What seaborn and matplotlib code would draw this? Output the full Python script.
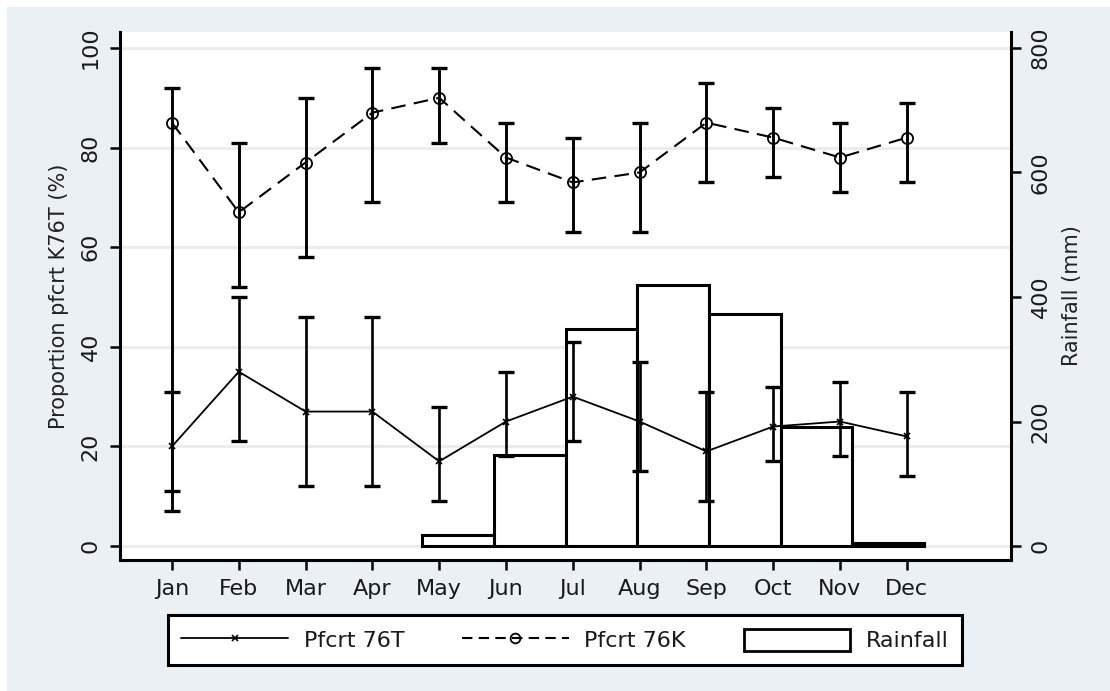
import matplotlib
matplotlib.use("Agg")
import matplotlib.pyplot as plt
import matplotlib.transforms as mtransforms
import seaborn as sns
import numpy as np
import pandas as pd
from matplotlib.patches import Rectangle
from matplotlib.lines import Line2D

# ---------------- data ----------------
months = ["Jan", "Feb", "Mar", "Apr", "May", "Jun", "Jul", "Aug", "Sep", "Oct", "Nov", "Dec"]
month_num = list(range(1, 13))

t76 = [20, 35, 27, 27, 17, 25, 30, 25, 19, 24, 25, 22]
t76_lo = [11, 21, 12, 12, 9, 18, 21, 15, 9, 17, 18, 14]
t76_hi = [31, 50, 46, 46, 28, 35, 41, 37, 31, 32, 33, 31]

k76 = [85, 67, 77, 87, 90, 78, 73, 75, 85, 82, 78, 82]
k76_lo = [7, 52, 58, 69, 81, 69, 63, 63, 73, 74, 71, 73]
k76_hi = [92, 81, 90, 96, 96, 85, 82, 85, 93, 88, 85, 89]

rain_months = [5, 6, 7, 8, 9, 10, 11]
rainfall = [18, 147, 349, 419, 373, 192, 5]

pct_ticks = [0, 20, 40, 60, 80, 100]
rain_ticks = [0, 200, 400, 600, 800]

# ---------------- style ----------------
sns.set_theme(style="white")
plt.rcParams["font.family"] = ["DejaVu Sans"]
plt.rcParams["text.color"] = "#1a1a1a"
plt.rcParams["axes.labelcolor"] = "#222222"
plt.rcParams["xtick.color"] = "#1a1a1a"
plt.rcParams["ytick.color"] = "#1a1a1a"

BG = "#eaf0f3"
fig = plt.figure(figsize=(11.10, 6.91), dpi=100, facecolor=BG)
# white margin on top/left like the reference scan
fig.patches.append(Rectangle((0, 1 - 7 / 691), 1, 7 / 691, transform=fig.transFigure,
                             facecolor="white", edgecolor="none", zorder=-10))
fig.patches.append(Rectangle((0, 0), 7 / 1110, 1, transform=fig.transFigure,
                             facecolor="white", edgecolor="none", zorder=-10))

rect = [120 / 1110, 1 - 560 / 691, (1011 - 120) / 1110, (560 - 32) / 691]

ax_b = fig.add_axes(rect)   # rainfall layer (bottom)
ax = fig.add_axes(rect)     # percentage layer (top)
ax.patch.set_visible(False)

# ---- rainfall layer ----
ax_b.set_facecolor("white")
rain_df = pd.DataFrame({"m": rain_months, "rain": rainfall})
sns.barplot(data=rain_df, x="m", y="rain", native_scale=True, width=1.0,
            color="white", saturation=1, edgecolor="black", linewidth=2.2,
            errorbar=None, ax=ax_b, zorder=2)
ax_b.set_xlim(0.284, 12.716)
ax_b.set_ylim(-22.4, 825.6)
ax_b.set_xticks([])
ax_b.set_xlabel("")
ax_b.yaxis.tick_right()
ax_b.yaxis.set_label_position("right")
ax_b.set_yticks(rain_ticks)
ax_b.set_yticklabels([str(v) for v in rain_ticks], rotation=90, va="center", fontsize=16)
ax_b.set_ylabel("Rainfall (mm)", fontsize=15, labelpad=8)
for s in ["top", "left", "bottom"]:
    ax_b.spines[s].set_visible(False)
ax_b.spines["right"].set_color("black")
ax_b.spines["right"].set_linewidth(2.2)
ax_b.tick_params(axis="y", direction="out", length=7, width=1.8, color="black", pad=7, right=True)

# ---- percentage layer ----
ax.set_xlim(0.222, 13.56)
ax.set_ylim(-2.8, 103.2)

# gridlines at the percentage ticks, drawn beneath the bars
grid_tr = mtransforms.blended_transform_factory(ax_b.transAxes, ax.transData)
for p in pct_ticks:
    ax_b.add_line(Line2D([0, 1], [p, p], transform=grid_tr, color="#ebeded", lw=2.2, zorder=0.5))

ax.errorbar(month_num, t76, yerr=[np.array(t76) - np.array(t76_lo), np.array(t76_hi) - np.array(t76)],
            fmt="none", ecolor="black", elinewidth=1.9, capsize=5.5, capthick=2.4, zorder=3)
ax.errorbar(month_num, k76, yerr=[np.array(k76) - np.array(k76_lo), np.array(k76_hi) - np.array(k76)],
            fmt="none", ecolor="black", elinewidth=2.1, capsize=5.5, capthick=2.4, zorder=3)

sns.lineplot(x=month_num, y=t76, ax=ax, color="black", linewidth=1.3, marker="x",
             markersize=4, markeredgecolor="black", markeredgewidth=1.2, zorder=4)
sns.lineplot(x=month_num, y=k76, ax=ax, color="black", linewidth=1.5, linestyle=(0, (7, 4)),
             marker="o", markersize=8, markerfacecolor="none", markeredgecolor="black",
             markeredgewidth=1.3, zorder=4)

ax.set_xticks(month_num)
ax.set_xticklabels(months, fontsize=16)
ax.set_yticks(pct_ticks)
ax.set_yticklabels([str(v) for v in pct_ticks], rotation=90, va="center", fontsize=16)
ax.set_ylabel("Proportion pfcrt K76T (%)", fontsize=15, labelpad=8)
ax.set_xlabel("")
for s in ["top", "right"]:
    ax.spines[s].set_visible(False)
for s in ["left", "bottom"]:
    ax.spines[s].set_color("black")
    ax.spines[s].set_linewidth(2.2)
ax.tick_params(axis="both", direction="out", length=7, width=1.8, color="black", pad=7,
               left=True, bottom=True)

# legend
h1 = Line2D([], [], color="black", lw=1.3, marker="x", markersize=4, markeredgewidth=1.2)
h2 = Line2D([], [], color="black", lw=1.5, linestyle=(0, (5, 3)), marker="o", markersize=7,
            markerfacecolor="none", markeredgewidth=1.3)
h3 = Rectangle((0, 0), 1, 1, facecolor="white", edgecolor="black", linewidth=2.0)
leg = fig.legend([h1, h2, h3], ["Pfcrt 76T", "Pfcrt 76K", "Rainfall"], loc="center",
                 bbox_to_anchor=(565 / 1110, 1 - 640 / 691), ncol=3, fontsize=16,
                 frameon=True, fancybox=False, edgecolor="black", facecolor="white",
                 framealpha=1.0, handlelength=4.8, handleheight=1.2, handletextpad=0.7,
                 columnspacing=2.6, borderpad=0.6, borderaxespad=0)
leg.get_frame().set_linewidth(2.2)

fig.savefig("out.png", dpi=100, facecolor=BG)
